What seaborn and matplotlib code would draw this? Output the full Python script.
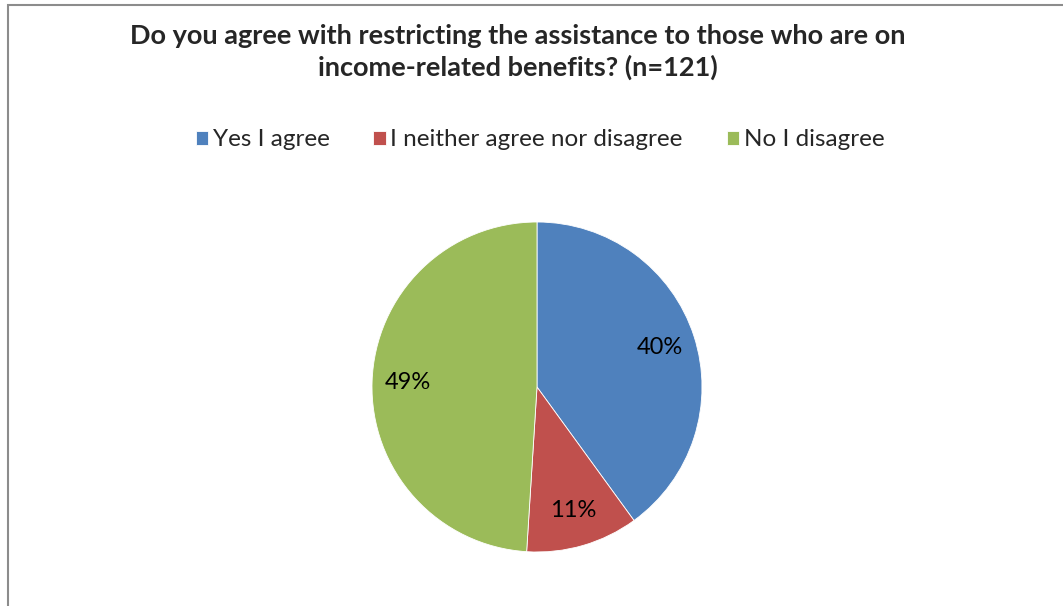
import matplotlib
matplotlib.use("Agg")
import matplotlib.pyplot as plt
from matplotlib.patches import Rectangle
import seaborn as sns

# Survey responses (percent of n=121)
categories = ["Yes I agree", "I neither agree nor disagree", "No I disagree"]
shares = [40, 11, 49]
colors = ["#4F81BD", "#C0504D", "#9BBB59"]
title = "Do you agree with restricting the assistance to those who are on\nincome-related benefits? (n=121)"

sns.set_theme(style="white")
plt.rcParams["font.family"] = ["Lato", "DejaVu Sans"]

W, H = 1063, 606
fig = plt.figure(figsize=(W / 100, H / 100), dpi=100)
fig.patch.set_facecolor("white")

# pie axes: centre (537, 387) px, radius 165 px
cx, cy, r = 537, 387, 165
ax = fig.add_axes([(cx - r) / W, (H - cy - r) / H, 2 * r / W, 2 * r / H])
palette = sns.color_palette(colors)
wedges, texts, autotexts = ax.pie(
    shares,
    colors=palette,
    startangle=90,
    counterclock=False,
    radius=1.0,
    autopct=lambda p: f"{p:.0f}%",
    pctdistance=0.78,
    wedgeprops=dict(edgecolor="white", linewidth=0.6),
    textprops=dict(fontsize=17, color="black"),
)
ax.set_xlim(-1, 1)
ax.set_ylim(-1, 1)
ax.set_aspect("equal")
ax.axis("off")

fig.text(518 / W, 1 - 52 / H, title, ha="center", va="center",
         fontsize=19.5, fontweight="bold", linespacing=1.3)

fig.legend(wedges, categories, loc="center", bbox_to_anchor=(540 / W, 1 - 140 / H),
           ncol=3, frameon=False, fontsize=17.5, handlelength=0.5, handleheight=0.5,
           handletextpad=0.2, columnspacing=1.8)

# outer chart frame (runs off the right and bottom edges)
fig.add_artist(Rectangle((7.5 / W, -0.1), 1.2, (H - 4.5) / H + 0.1,
                         transform=fig.transFigure, fill=False,
                         edgecolor="#8c8c8c", linewidth=1.5))

fig.savefig("out.png", dpi=100)
